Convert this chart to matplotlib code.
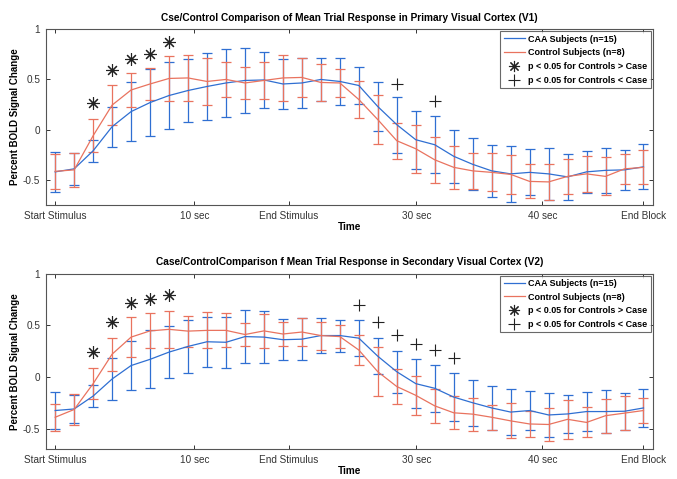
import numpy as np
import matplotlib
matplotlib.use("Agg")
import matplotlib.pyplot as plt
from matplotlib.lines import Line2D

plt.rcParams["font.family"] = ["Liberation Sans", "DejaVu Sans"]

# ------------------------------------------------------------------
# data
# ------------------------------------------------------------------
n_points = 32
tick_pos = [0, 7.33, 12.3, 19.03, 25.67, 31]
tick_labels = ["Start Stimulus", "10 sec", "End Stimulus", "30 sec", "40 sec", "End Block"]

caa_v1_mean = [-0.42, -0.39, -0.21, 0.03, 0.18, 0.27, 0.34, 0.39, 0.43, 0.465, 0.49, 0.495,
               0.455, 0.465, 0.50, 0.48, 0.44, 0.23, 0.05, -0.10, -0.15, -0.265, -0.345, -0.41,
               -0.44, -0.425, -0.44, -0.47, -0.42, -0.405, -0.40, -0.37]
caa_v1_err = [0.20, 0.16, 0.11, 0.20, 0.29, 0.335, 0.33, 0.31, 0.33, 0.34, 0.32, 0.275,
              0.245, 0.245, 0.215, 0.23, 0.18, 0.24, 0.28, 0.29, 0.283, 0.265, 0.26, 0.257,
              0.276, 0.23, 0.26, 0.227, 0.21, 0.225, 0.20, 0.225]
ctrl_v1_mean = [-0.415, -0.40, -0.06, 0.245, 0.395, 0.455, 0.51, 0.515, 0.48, 0.50, 0.465, 0.49,
                0.515, 0.52, 0.47, 0.465, 0.30, 0.10, -0.11, -0.19, -0.30, -0.375, -0.41, -0.425,
                -0.445, -0.515, -0.52, -0.465, -0.44, -0.465, -0.39, -0.375]
ctrl_v1_err = [0.175, 0.17, 0.167, 0.20, 0.165, 0.155, 0.22, 0.225, 0.23, 0.175, 0.155, 0.18,
               0.225, 0.19, 0.18, 0.14, 0.183, 0.245, 0.177, 0.24, 0.23, 0.215, 0.18, 0.19,
               0.194, 0.17, 0.18, 0.177, 0.18, 0.19, 0.15, 0.17]
star_v1_idx = [2, 3, 4, 5, 6]
star_v1_y = [0.265, 0.59, 0.705, 0.755, 0.876]
plus_v1_idx = [18, 20]
plus_v1_y = [0.457, 0.282]

caa_v2_mean = [-0.325, -0.31, -0.185, -0.02, 0.11, 0.17, 0.24, 0.295, 0.34, 0.335, 0.39, 0.385,
               0.36, 0.365, 0.40, 0.40, 0.375, 0.20, 0.05, -0.065, -0.11, -0.195, -0.25, -0.30,
               -0.34, -0.325, -0.368, -0.358, -0.335, -0.335, -0.332, -0.30]
caa_v2_err = [0.183, 0.135, 0.11, 0.20, 0.235, 0.28, 0.255, 0.255, 0.24, 0.245, 0.255, 0.25,
              0.20, 0.20, 0.17, 0.155, 0.175, 0.175, 0.205, 0.24, 0.225, 0.23, 0.225, 0.215,
              0.22, 0.19, 0.215, 0.185, 0.19, 0.21, 0.18, 0.185]
ctrl_v2_mean = [-0.39, -0.315, -0.065, 0.22, 0.385, 0.445, 0.46, 0.443, 0.45, 0.45, 0.41, 0.445,
                0.415, 0.434, 0.40, 0.39, 0.26, 0.05, -0.093, -0.178, -0.28, -0.347, -0.36, -0.39,
                -0.425, -0.455, -0.46, -0.41, -0.44, -0.375, -0.35, -0.325]
ctrl_v2_err = [0.13, 0.15, 0.15, 0.16, 0.19, 0.17, 0.18, 0.15, 0.175, 0.165, 0.11, 0.165,
               0.12, 0.135, 0.135, 0.11, 0.145, 0.235, 0.165, 0.19, 0.165, 0.16, 0.16, 0.12,
               0.17, 0.13, 0.16, 0.19, 0.145, 0.165, 0.165, 0.125]
star_v2_idx = [2, 3, 4, 5, 6]
star_v2_y = [0.245, 0.532, 0.716, 0.755, 0.797]
plus_v2_idx = [16, 17, 18, 19, 20, 21]
plus_v2_y = [0.695, 0.53, 0.407, 0.315, 0.263, 0.186]

legend_labels = ["CAA Subjects (n=15)", "Control Subjects (n=8)",
                 "p < 0.05 for Controls > Case", "p < 0.05 for Controls < Case"]

BLUE = "#2f6fd2"
RED = "#e9735f"
INK = "#222222"
STAR = (8, 2, 0)  # MATLAB-style 8-spoke asterisk


def panel(ax, caa_mean, caa_err, ctrl_mean, ctrl_err, s_idx, s_y, p_idx, p_y, title, ylim):
    x = np.arange(n_points)
    ax.errorbar(x, caa_mean, yerr=caa_err, color=BLUE, lw=0.9, elinewidth=0.9,
                capsize=3.6, capthick=0.9)
    ax.errorbar(x, ctrl_mean, yerr=ctrl_err, color=RED, lw=0.9, elinewidth=0.9,
                capsize=3.6, capthick=0.9)
    ax.plot(s_idx, s_y, ls="none", marker=STAR, ms=9, mew=0.8, color=INK)
    ax.plot(p_idx, p_y, ls="none", marker="+", ms=9, mew=0.8, color=INK)

    ax.set_xlim(-0.5, 31.5)
    ax.set_ylim(*ylim)
    ax.set_xticks(tick_pos)
    ax.set_xticklabels(tick_labels)
    ax.set_yticks([-0.5, 0, 0.5, 1])
    ax.set_yticklabels(["-0.5", "0", "0.5", "1"])
    ax.tick_params(direction="in", top=True, right=True, length=3, width=0.7,
                   labelsize=7.2, colors="#333333", pad=4)
    for sp in ax.spines.values():
        sp.set_color("#555555")
        sp.set_linewidth(0.8)

    ax.set_title(title, fontsize=7.3, fontweight="bold", pad=6)
    ax.set_xlabel("Time", fontsize=7.2, fontweight="bold", labelpad=1)
    ax.set_ylabel("Percent BOLD Signal Change", fontsize=7, fontweight="bold", labelpad=2)

    handles = [
        Line2D([], [], color=BLUE, lw=0.9),
        Line2D([], [], color=RED, lw=0.9),
        Line2D([], [], ls="none", marker=STAR, ms=8, mew=0.8, color=INK),
        Line2D([], [], ls="none", marker="+", ms=8, mew=0.8, color=INK),
    ]
    leg = ax.legend(handles, legend_labels, loc="upper right",
                    prop={"weight": "bold", "size": 6.5},
                    frameon=True, fancybox=False, borderaxespad=0.25, handlelength=2.4,
                    labelspacing=0.52, borderpad=0.35, handletextpad=0.35)
    leg.get_frame().set_edgecolor("#444444")
    leg.get_frame().set_linewidth(0.8)


fig = plt.figure(figsize=(6.77, 4.79), dpi=100)
ax1 = fig.add_axes([0.0675, 0.572, 0.897, 0.367])
ax2 = fig.add_axes([0.0675, 0.062, 0.897, 0.367])

panel(ax1, caa_v1_mean, caa_v1_err, ctrl_v1_mean, ctrl_v1_err,
      star_v1_idx, star_v1_y, plus_v1_idx, plus_v1_y,
      "Cse/Control Comparison of Mean Trial Response in Primary Visual Cortex (V1)", (-0.75, 1))
panel(ax2, caa_v2_mean, caa_v2_err, ctrl_v2_mean, ctrl_v2_err,
      star_v2_idx, star_v2_y, plus_v2_idx, plus_v2_y,
      "Case/ControlComparison f Mean Trial Response in Secondary Visual Cortex (V2)", (-0.7, 1))

fig.savefig("out.png", dpi=100)
